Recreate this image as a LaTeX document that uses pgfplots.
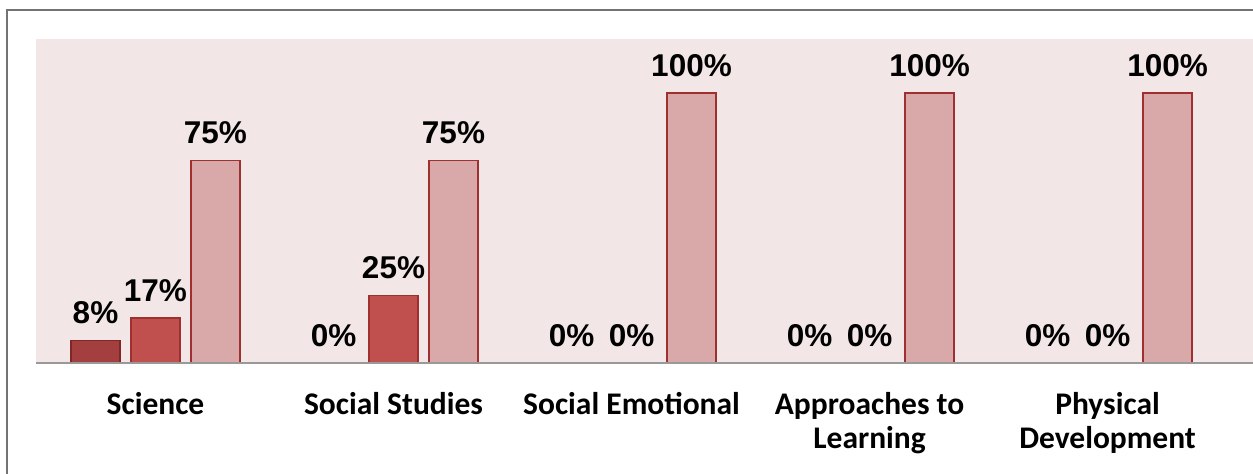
\documentclass[border=0pt]{standalone}
\usepackage{pgfplots}
\pgfplotsset{compat=1.18}
\usepackage{fontspec}
\setmainfont{Liberation Sans}
\newfontfamily\calibri{Carlito}
\definecolor{bgpink}{HTML}{F2E6E6}
\definecolor{darkbar}{HTML}{A33F3E}
\definecolor{midbar}{HTML}{C0504D}
\definecolor{lightbar}{HTML}{D9A9A9}
\definecolor{edgered}{HTML}{A0302F}
\begin{document}
\begin{tikzpicture}
\begin{axis}[
  at={(0pt,0pt)}, anchor=south west,
  scale only axis, width=608.5pt, height=162pt,
  xmin=-0.502, xmax=4.611, ymin=0, ymax=120,
  axis background/.style={fill=bgpink},
  axis line style={draw=none},
  ytick=\empty,
  xtick={0,1,2,3,4},
  xticklabels={Science, Social Studies, Social Emotional, {Approaches to\\Learning}, {Physical\\Development}},
  major tick length=0pt,
  xticklabel style={font=\calibri\bfseries\fontsize{15.75}{17.3}\selectfont, align=center, anchor=north, yshift=-11pt},
  ybar, bar width=0.206,
  point meta=rawy,
  nodes near coords={\pgfmathprintnumber{\pgfplotspointmeta}\%},
  nodes near coords style={font=\bfseries\fontsize{15.75}{18}\selectfont, yshift=4.5pt, /pgf/number format/.cd, fixed, precision=0, assume math mode=true},
  clip=false,
]
\addplot[bar shift=-0.252, fill=darkbar, draw=edgered!80!black, line width=0.6pt] coordinates {(0,8.33) (1,0) (2,0) (3,0) (4,0)};
\addplot[bar shift=0, fill=midbar, draw=edgered, line width=0.6pt] coordinates {(0,16.67) (1,25) (2,0) (3,0) (4,0)};
\addplot[bar shift=0.252, fill=lightbar, draw=edgered, line width=0.6pt] coordinates {(0,75) (1,75) (2,100) (3,100) (4,100)};
\draw[gray!80, line width=1pt] (rel axis cs:0,0) -- (rel axis cs:1,0);
\end{axis}
\draw[gray!90!black, line width=1.2pt] (-14.5pt,-80pt) -- (-14.5pt,176.5pt) -- (640pt,176.5pt);
\pgfresetboundingbox
\useasboundingbox (-18pt,-55.5pt) rectangle (608.5pt,181.5pt);
\end{tikzpicture}
\end{document}
